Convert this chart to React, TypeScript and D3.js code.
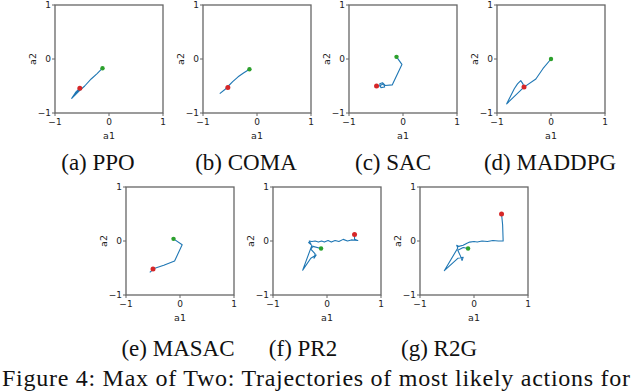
import React from 'react';
import * as d3 from 'd3';

// trajectories of the most likely joint action (a1, a2) per method
const ppoPath: [number, number][] = [
  [-0.12, -0.17], [-0.22, -0.27], [-0.33, -0.37], [-0.45, -0.5], [-0.56, -0.6],
  [-0.69, -0.73], [-0.62, -0.62], [-0.55, -0.55], [-0.63, -0.67], [-0.55, -0.56],
];
const comaPath: [number, number][] = [
  [-0.14, -0.19], [-0.25, -0.26], [-0.35, -0.33], [-0.45, -0.42],
  [-0.53, -0.5], [-0.6, -0.57], [-0.69, -0.64],
];
const sacPath: [number, number][] = [
  [-0.12, 0.04], [-0.02, -0.1], [-0.2, -0.48], [-0.33, -0.49], [-0.38, -0.44],
  [-0.43, -0.46], [-0.41, -0.53], [-0.34, -0.52], [-0.36, -0.46], [-0.44, -0.5], [-0.49, -0.5],
];
const maddpgPath: [number, number][] = [
  [0, 0], [-0.15, -0.18], [-0.28, -0.37], [-0.5, -0.52], [-0.82, -0.83],
  [-0.68, -0.55], [-0.62, -0.46], [-0.56, -0.4], [-0.52, -0.46], [-0.5, -0.52],
];
const masacPath: [number, number][] = [
  [-0.12, 0.04], [0.04, -0.07], [-0.1, -0.37], [-0.3, -0.45], [-0.48, -0.51], [-0.56, -0.58],
];
const pr2Path: [number, number][] = [
  [0.51, 0.12], [0.51, 0.03], [0.57, 0.01], [0.45, 0.02], [0.38, 0.0], [0.3, 0.03],
  [0.22, -0.01], [0.15, 0.01], [0.08, -0.02], [0.02, 0.01], [-0.05, -0.02], [-0.1, 0.0],
  [-0.16, -0.02], [-0.22, 0.0], [-0.28, -0.01], [-0.33, 0.0], [-0.3, -0.05], [-0.34, -0.03],
  [-0.28, -0.08], [-0.45, -0.54], [-0.3, -0.32], [-0.2, -0.26], [-0.24, -0.32],
  [-0.22, -0.24], [-0.3, -0.15], [-0.26, -0.1], [-0.11, -0.14],
];
const r2gPath: [number, number][] = [
  [0.51, 0.5], [0.53, 0.3], [0.54, 0.0], [0.45, 0.0], [0.35, 0.01], [0.25, -0.01],
  [0.15, 0.0], [0.06, -0.02], [0.0, -0.01], [-0.08, -0.02], [-0.13, -0.04], [-0.2, -0.08],
  [-0.28, -0.1], [-0.32, -0.08], [-0.3, -0.13], [-0.55, -0.55], [-0.3, -0.32], [-0.2, -0.3],
  [-0.22, -0.36], [-0.25, -0.28], [-0.3, -0.17], [-0.2, -0.12], [-0.11, -0.14],
];

const startPoints: [number, number][] = [
  [-0.12, -0.17], [-0.14, -0.19], [-0.12, 0.04], [0, 0], [-0.12, 0.04], [-0.11, -0.14], [-0.11, -0.14],
];
const endPoints: [number, number][] = [
  [-0.54, -0.54], [-0.54, -0.53], [-0.49, -0.5], [-0.5, -0.52], [-0.5, -0.52], [0.51, 0.12], [0.51, 0.5],
];

const captions = ['(a) PPO', '(b) COMA', '(c) SAC', '(d) MADDPG', '(e) MASAC', '(f) PR2', '(g) R2G'];
const paths = [ppoPath, comaPath, sacPath, maddpgPath, masacPath, pr2Path, r2gPath];
const tickValues = [-1, 0, 1];

// layout of each subplot (left, top of axes box) and caption centre
const panelLeft = [55, 203, 349, 497, 126, 273, 420];
const panelTop = [5, 5, 5, 5, 187, 187, 187];
const captionX = [98, 246, 393, 550, 178, 303, 439];
const captionY = [170, 170, 170, 170, 356, 356, 356];
const SIZE = 108;

const fmt = (v: number) => (v < 0 ? '\u2212' + Math.abs(v) : String(v));

function Panel({ idx }: { idx: number }) {
  const left = panelLeft[idx];
  const top = panelTop[idx];
  const x = d3.scaleLinear().domain([-1, 1]).range([left, left + SIZE]);
  const y = d3.scaleLinear().domain([-1, 1]).range([top + SIZE, top]);
  const line = d3.line<[number, number]>().x(d => x(d[0])).y(d => y(d[1]));
  const s = startPoints[idx];
  const e = endPoints[idx];
  const axisColor = '#666';
  return (
    <g>
      <rect x={left} y={top} width={SIZE} height={SIZE} fill="none" stroke={axisColor} strokeWidth={1.3} />
      {tickValues.map(t => (
        <g key={'x' + t}>
          <line x1={x(t)} x2={x(t)} y1={top + SIZE} y2={top + SIZE + 3} stroke={axisColor} strokeWidth={1} />
          <text x={x(t)} y={top + SIZE + 12} fontSize={9} textAnchor="middle" fill="#222">{fmt(t)}</text>
        </g>
      ))}
      {tickValues.map(t => (
        <g key={'y' + t}>
          <line x1={left - 3} x2={left} y1={y(t)} y2={y(t)} stroke={axisColor} strokeWidth={1} />
          <text x={left - 4} y={y(t) + 3.2} fontSize={9} textAnchor="end" fill="#222">{fmt(t)}</text>
        </g>
      ))}
      <text x={left + SIZE / 2} y={top + SIZE + 26} fontSize={9.5} textAnchor="middle" fill="#222">a1</text>
      <text
        transform={`translate(${left - 19},${top + SIZE / 2}) rotate(-90)`}
        fontSize={9.5}
        textAnchor="middle"
        fill="#222"
      >a2</text>
      <path d={line(paths[idx]) || ''} fill="none" stroke="#1f77b4" strokeWidth={1.1} strokeLinejoin="round" />
      <circle cx={x(s[0])} cy={y(s[1])} r={2.2} fill="#2ca02c" />
      <circle cx={x(e[0])} cy={y(e[1])} r={2.5} fill="#d62728" />
    </g>
  );
}

export default function App() {
  return (
    <svg
      width={640}
      height={391}
      style={{ position: 'absolute', left: 0, top: 0, background: '#fff' }}
      fontFamily="'DejaVu Sans', sans-serif"
    >
      <rect width={640} height={391} fill="#fff" />
      {paths.map((_, i) => <Panel key={i} idx={i} />)}
      {captions.map((c, i) => (
        <text key={c} x={captionX[i]} y={captionY[i]} fontSize={23} textAnchor="middle"
          fontFamily="'Liberation Serif', serif" fill="#111">{c}</text>
      ))}
      <text x={2} y={386} fontSize={24} fontFamily="'Liberation Serif', serif" fill="#111"
        textLength={628} lengthAdjust="spacing">
        Figure 4: Max of Two: Trajectories of most likely actions for
      </text>
    </svg>
  );
}
